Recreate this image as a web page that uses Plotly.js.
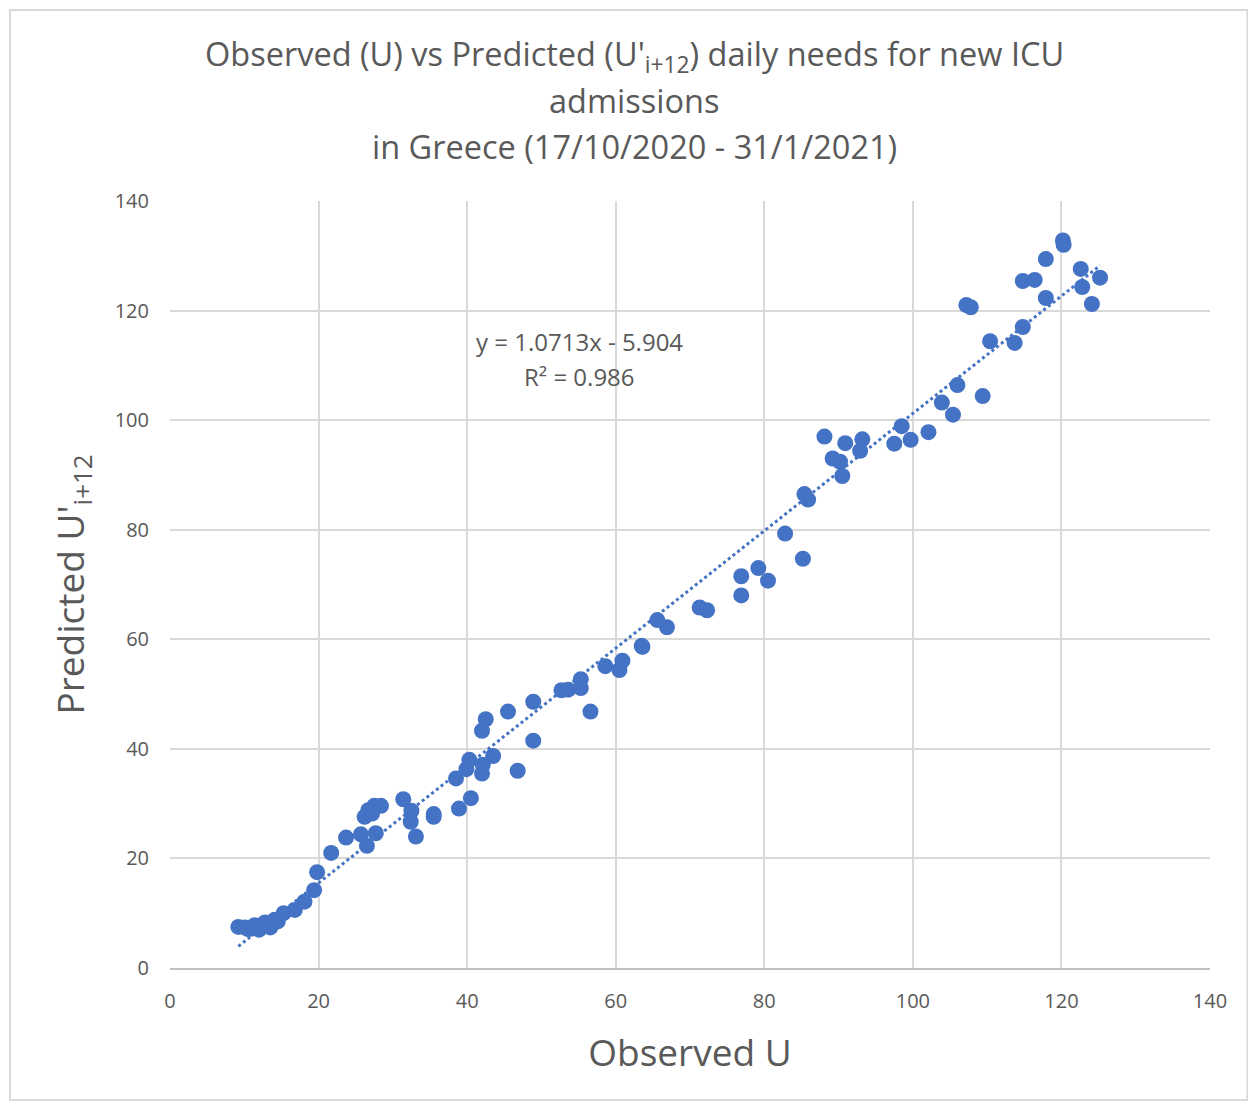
<!DOCTYPE html>
<html>
<head>
<meta charset="utf-8">
<script src="https://cdn.plot.ly/plotly-3.0.1.min.js"></script>
<style>html,body{margin:0;padding:0;background:#fff;}#chart{width:1248px;height:1105px;}</style>
</head>
<body>
<div id="chart"></div>
<script>
const observedU = [9.2,10.1,10.5,11.0,11.4,12.0,12.3,12.8,13.5,14.1,14.5,15.3,16.8,18.1,19.4,19.8,21.7,23.7,25.7,26.5,27.7,26.2,26.7,27.5,28.4,27.2,31.4,32.5,32.4,33.1,35.5,35.5,38.9,40.5,38.5,39.9,40.3,42.0,42.1,43.5,42.0,42.5,45.5,46.8,48.9,48.9,52.7,53.6,55.3,55.3,56.6,58.6,60.9,60.5,63.5,63.6,65.6,66.9,71.3,72.3,76.9,76.9,79.2,80.5,82.8,85.2,85.4,85.9,88.1,89.2,90.2,90.5,90.9,93.2,92.9,97.5,98.5,99.7,102.1,103.9,105.4,106.0,109.4,110.4,113.7,114.8,107.2,107.8,114.8,116.4,117.9,117.9,120.2,120.3,122.6,122.8,125.2,124.1];
const predictedU = [7.5,7.4,7.1,7.2,7.8,7.0,7.8,8.3,7.4,8.8,8.5,10.0,10.6,12.1,14.2,17.5,21.0,23.8,24.4,22.3,24.6,27.6,28.8,29.6,29.6,28.2,30.8,28.7,26.7,24.0,28.1,27.6,29.1,31.0,34.6,36.3,38.0,35.5,37.1,38.7,43.3,45.4,46.8,36.0,41.5,48.6,50.7,50.8,52.7,51.1,46.8,55.1,56.1,54.4,58.8,58.6,63.5,62.2,65.8,65.3,71.5,68.0,73.0,70.7,79.3,74.7,86.5,85.5,97.0,93.0,92.4,89.8,95.8,96.5,94.4,95.7,98.9,96.4,97.8,103.2,101.0,106.4,104.4,114.4,114.1,117.0,121.0,120.6,125.4,125.6,129.4,122.3,132.8,132.0,127.6,124.3,126.0,121.2];
const slope = 1.0713, intercept = -5.904;
const trendX = [Math.min(...observedU), Math.max(...observedU)];
const trendY = trendX.map(v => slope * v + intercept);
const tickVals = [0,20,40,60,80,100,120,140];
const titleLines = ["Observed (U) vs Predicted (U'<sub>i+12</sub>) daily needs for new ICU", "admissions", "in Greece (17/10/2020 - 31/1/2021)"];
const equationLines = ['y = 1.0713x - 5.904', 'R² = 0.986'];
const txt = '#595959';

const data = [
  {x: trendX, y: trendY, mode: 'lines', type: 'scatter', line: {color: '#4472C4', width: 3, dash: 'dot'}, hoverinfo: 'skip'},
  {x: observedU, y: predictedU, mode: 'markers', type: 'scatter', marker: {color: '#4472C4', size: 16}}
];

const titleY = [1.1903, 1.1304, 1.0717];
const annotations = titleLines.map((t, i) => ({
  xref: 'paper', yref: 'paper', x: 0.4466, y: titleY[i], xanchor: 'center', yanchor: 'middle',
  text: t, showarrow: false, font: {size: 32.5, color: txt}
}));
const eqY = [114.4, 107.9];
equationLines.forEach((t, i) => annotations.push({xref: 'x', yref: 'y', x: 55.1, y: eqY[i], text: t,
  showarrow: false, xanchor: 'center', yanchor: 'middle', font: {size: 24, color: txt}}));

const layout = {
  width: 1248, height: 1105,
  margin: {l: 170, r: 38, t: 201, b: 137},
  showlegend: false,
  paper_bgcolor: '#fff', plot_bgcolor: '#fff',
  font: {family: 'Open Sans, sans-serif', color: txt},
  xaxis: {
    range: [0, 140], tickvals: tickVals, ticks: '', showgrid: true, gridcolor: '#d9d9d9', gridwidth: 2,
    zeroline: false, showline: true, linecolor: '#bfbfbf', linewidth: 2,
    tickfont: {size: 20, color: txt}, ticklabelstandoff: 14,
    title: {text: 'Observed U', font: {size: 37, color: txt}, standoff: 27}
  },
  yaxis: {
    range: [0, 140], tickvals: tickVals, ticks: '', showgrid: true, gridcolor: '#d9d9d9', gridwidth: 2,
    zeroline: false, showline: false,
    tickfont: {size: 20, color: txt}, ticklabelstandoff: 20,
    title: {text: "Predicted U'<sub>i+12</sub>", font: {size: 37, color: txt}, standoff: 18}
  },
  annotations: annotations,
  shapes: [
    {type: 'rect', xref: 'paper', yref: 'paper', x0: -0.1538, x1: 1.036, y0: -0.172, y1: 1.249,
     line: {color: '#d9d9d9', width: 2}, fillcolor: 'rgba(0,0,0,0)', layer: 'below'}
  ]
};

Plotly.newPlot('chart', data, layout, {displayModeBar: false, staticPlot: true});
</script>
</body>
</html>
